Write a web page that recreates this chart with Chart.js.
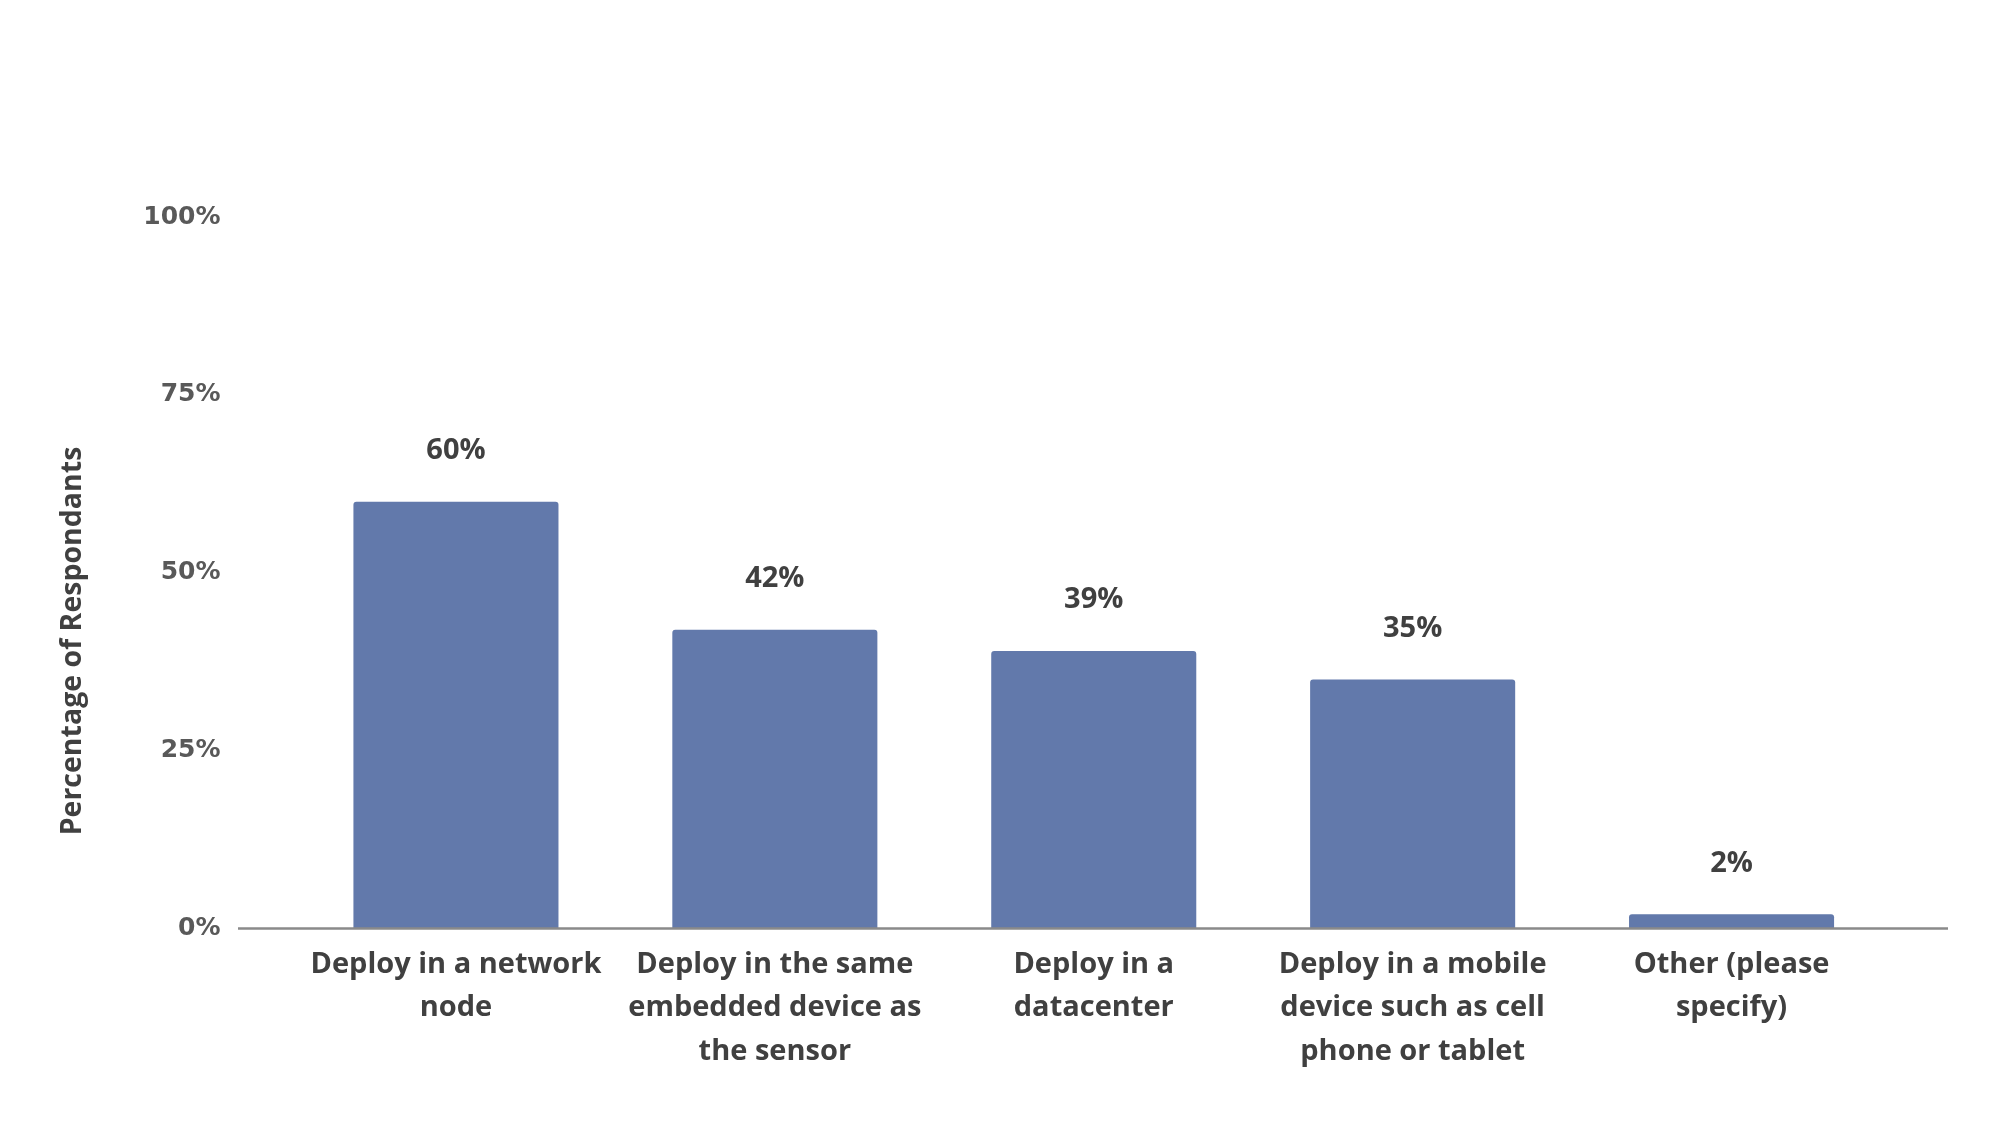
<!DOCTYPE html>
<html>
<head>
<meta charset="utf-8">
<script src="https://cdn.jsdelivr.net/npm/chart.js@4"></script>
<style>
html,body{margin:0;padding:0;background:#fff;}
#wrap{width:2000px;height:1126px;position:relative;}
</style>
</head>
<body>
<div id="wrap"><canvas id="c" width="2000" height="1126"></canvas></div>
<script>
const categories = [
  ["Deploy in a network", "node"],
  ["Deploy in the same", "embedded device as", "the sensor"],
  ["Deploy in a", "datacenter"],
  ["Deploy in a mobile", "device such as cell", "phone or tablet"],
  ["Other (please", "specify)"]
];
const values = [60, 42, 39, 35, 2];
const yTicks = [0, 25, 50, 75, 100];
const yTitle = "Percentage of Respondants";

const labelFont = "'Open Sans', sans-serif";

const extrasPlugin = {
  id: 'extras',
  afterDatasetsDraw(chart) {
    const ctx = chart.ctx;
    const y = chart.scales.y;
    const base = y.getPixelForValue(0);
    ctx.save();
    ctx.strokeStyle = '#8a8a8a';
    ctx.lineWidth = 2.5;
    ctx.beginPath();
    ctx.moveTo(238, base);
    ctx.lineTo(1948, base);
    ctx.stroke();
    const meta = chart.getDatasetMeta(0);
    ctx.fillStyle = '#404040';
    ctx.font = "bold 29px " + labelFont;
    ctx.textAlign = 'center';
    ctx.textBaseline = 'middle';
    meta.data.forEach((bar, i) => {
      ctx.fillText(values[i] + '%', bar.x, bar.y - 51);
    });
    ctx.translate(73, 641);
    ctx.rotate(-Math.PI / 2);
    ctx.fillStyle = '#404040';
    ctx.font = "bold 28.5px " + labelFont;
    ctx.fillText(yTitle, 0, 0);
    ctx.restore();
  }
};

new Chart(document.getElementById('c'), {
  type: 'bar',
  data: {
    labels: categories,
    datasets: [{
      data: values,
      backgroundColor: '#6279ab',
      borderRadius: 3,
      borderSkipped: 'bottom',
      barPercentage: 0.643,
      categoryPercentage: 1.0
    }]
  },
  options: {
    responsive: false,
    animation: false,
    devicePixelRatio: 1,
    layout: { padding: { top: 217, right: 109, bottom: 0, left: 0 } },
    plugins: { legend: { display: false }, tooltip: { enabled: false } },
    scales: {
      x: {
        grid: { display: false, drawTicks: false },
        border: { display: false },
        ticks: {
          padding: 14,
          color: '#404040',
          maxRotation: 0,
          autoSkip: false,
          font: { family: labelFont, size: 29, weight: 'bold', lineHeight: 1.5 }
        },
        afterFit(scale) { scale.height = 197.4; }
      },
      y: {
        min: 0,
        max: 100,
        afterBuildTicks(scale) { scale.ticks = yTicks.map(v => ({ value: v })); },
        grid: { display: false, drawTicks: false },
        border: { display: false },
        ticks: {
          padding: 76,
          color: '#595959',
          font: { family: "'DejaVu Sans', sans-serif", size: 25, weight: 'bold' },
          callback: v => v + '%'
        },
        afterFit(scale) { scale.width = 296.5; }
      }
    }
  },
  plugins: [extrasPlugin]
});
</script>
</body>
</html>
